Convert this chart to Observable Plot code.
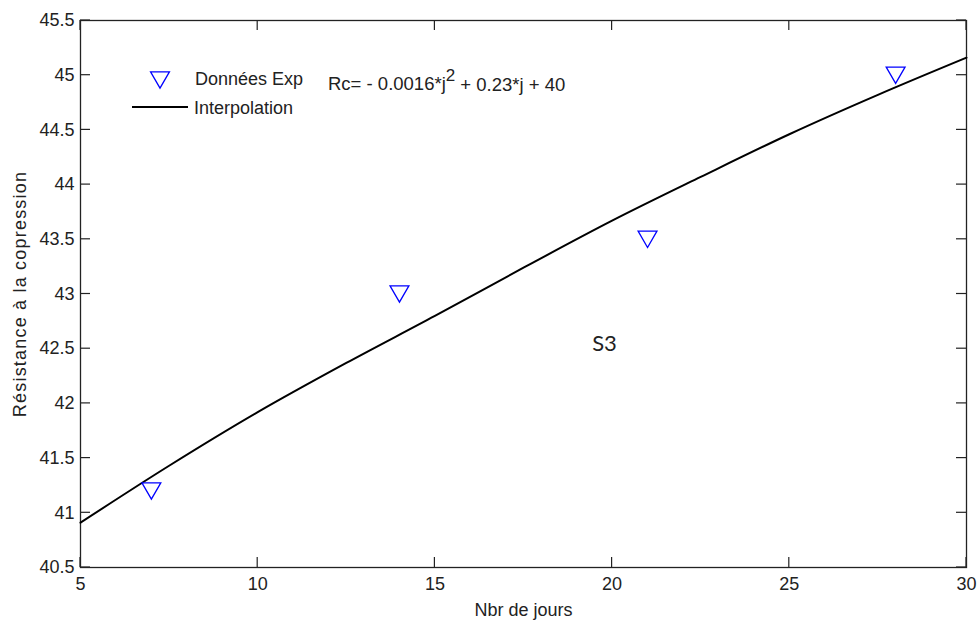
<!DOCTYPE html>
<html><head><meta charset="utf-8">
<script src="https://cdn.jsdelivr.net/npm/d3@7"></script>
<script src="https://cdn.jsdelivr.net/npm/@observablehq/plot@0.6"></script>
<style>
body{margin:0;background:#fff;}
#chart svg{font-family:"Liberation Sans",Arial,sans-serif;}
.ylab text{letter-spacing:1.2px;}
</style></head><body><div id="chart"></div>
<script>
// Experimental points
const jours = [7, 14, 21, 28];
const resistance = [41.2, 43.0, 43.5, 45.0];
// Interpolation curve
const courbeJours = [5, 7.5, 10, 12.5, 15, 17.5, 20, 22.5, 25, 27.5, 30];
const courbeRc = [40.91, 41.43, 41.92, 42.37, 42.80, 43.24, 43.67, 44.07, 44.46, 44.82, 45.16];
// Axis ticks
const xTicks = [5, 10, 15, 20, 25, 30];
const yTicks = [40.5, 41, 41.5, 42, 42.5, 43, 43.5, 44, 44.5, 45, 45.5];
// Texts
const xLabel = "Nbr de jours";
const yLabel = "Résistance à la copression";
const legendLabels = ["Données Exp", "Interpolation"];
const equationParts = ["Rc= - 0.0016*j", "2", " + 0.23*j + 40"];
const seriesLabel = "S3";

const points = jours.map((j, i) => ({j, rc: resistance[i]}));
const courbe = courbeJours.map((j, i) => ({j, rc: courbeRc[i]}));

const W = 980, H = 625, mL = 80, mR = 14, mT = 20, mB = 58;
const tick = 10;
const ink = "#222";

// inward ticks on all four sides, positioned through Plot's scales
function innerTicks(index, scales, values, dims) {
  const {x, y} = scales;
  const top = dims.marginTop, bottom = dims.height - dims.marginBottom;
  const left = dims.marginLeft, right = dims.width - dims.marginRight;
  const g = d3.create("svg:g").attr("stroke", ink).attr("stroke-width", 1.2);
  for (const v of xTicks) {
    const px = x(v);
    g.append("line").attr("x1", px).attr("x2", px).attr("y1", bottom).attr("y2", bottom - tick);
    g.append("line").attr("x1", px).attr("x2", px).attr("y1", top).attr("y2", top + tick);
  }
  for (const v of yTicks) {
    const py = y(v);
    g.append("line").attr("x1", left).attr("x2", left + tick).attr("y1", py).attr("y2", py);
    g.append("line").attr("x1", right).attr("x2", right - tick).attr("y1", py).attr("y2", py);
  }
  return g.node();
}

function legend(index, scales, values, dims) {
  const g = d3.create("svg:g").attr("text-anchor", "start");
  g.append("path")
    .attr("d", d3.symbol(d3.symbolTriangle, Math.PI * 49)())
    .attr("transform", "translate(160,77.3) rotate(180)")
    .attr("fill", "none").attr("stroke", "#0000ff").attr("stroke-width", 1.3);
  g.append("text").attr("x", 195).attr("y", 79).attr("dy", "0.32em")
    .attr("font-size", 18).attr("fill", ink).text(legendLabels[0]);
  g.append("line").attr("x1", 132).attr("x2", 188).attr("y1", 107).attr("y2", 107)
    .attr("stroke", "#000").attr("stroke-width", 2);
  g.append("text").attr("x", 194).attr("y", 108).attr("dy", "0.32em")
    .attr("font-size", 18).attr("fill", ink).text(legendLabels[1]);
  const eq = g.append("text").attr("x", 328).attr("y", 84).attr("dy", "0.32em")
    .attr("font-size", 18.5).attr("fill", ink);
  eq.append("tspan").text(equationParts[0]);
  eq.append("tspan").attr("dy", "-0.55em").attr("font-size", 17).text(equationParts[1]);
  eq.append("tspan").attr("dy", "0.55em").text(equationParts[2]);
  return g.node();
}

const chart = Plot.plot({
  width: W, height: H,
  marginLeft: mL, marginRight: mR, marginTop: mT, marginBottom: mB,
  style: {fontFamily: "Liberation Sans, Arial, sans-serif", fontSize: "17px", color: ink, background: "#fff"},
  x: {domain: [5, 30]},
  y: {domain: [40.5, 45.5]},
  marks: [
    innerTicks,
    Plot.axisX({ticks: xTicks, tickSize: 0, tickPadding: 10, label: null, fontSize: 18}),
    Plot.axisY({ticks: yTicks, tickSize: 0, tickPadding: 6, label: null, fontSize: 18, tickFormat: d => String(d)}),
    Plot.frame({stroke: ink, strokeWidth: 1.3}),
    Plot.line(courbe, {x: "j", y: "rc", stroke: "#000", strokeWidth: 2, curve: "catmull-rom"}),
    Plot.dot(points, {x: "j", y: "rc", symbol: "triangle", rotate: 180, r: 7, dy: -2.7,
                      stroke: "#0000ff", fill: "none", strokeWidth: 1.3}),
    Plot.text([xLabel], {text: d => d, frameAnchor: "bottom", textAnchor: "middle", lineAnchor: "middle",
                         dy: 43, fontSize: 18, fill: ink}),
    Plot.text([yLabel], {text: d => d, frameAnchor: "left", textAnchor: "middle", lineAnchor: "middle",
                         dx: -60, rotate: -90, fontSize: 18, fill: ink, className: "ylab"}),
    Plot.text([seriesLabel], {text: d => d, frameAnchor: "top-left", textAnchor: "middle", lineAnchor: "middle",
                              dx: 524, dy: 323, fontSize: 22,
                              fontFamily: "Lato, Noto Sans, sans-serif", fill: "#222"}),
    legend
  ]
});
document.getElementById("chart").appendChild(chart);
</script>
</body></html>
